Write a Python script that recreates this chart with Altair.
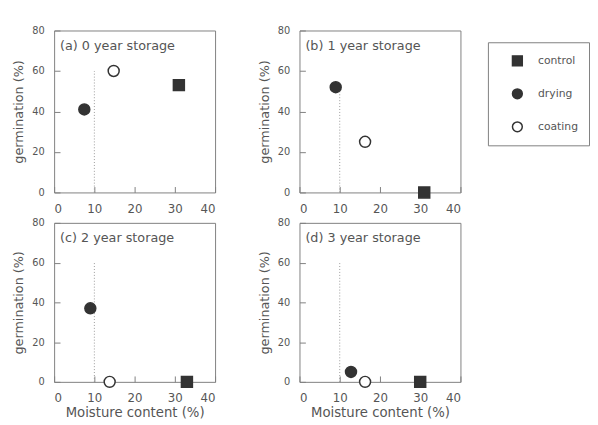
import altair as alt
import pandas as pd

panels = ["a", "b", "c", "d"]
panel_titles = ["(a) 0 year storage", "(b) 1 year storage",
                "(c) 2 year storage", "(d) 3 year storage"]
treatments = ["control", "drying", "coating"]
moisture = {
    "a": [31.0, 7.5, 14.8],
    "b": [31.0, 9.0, 16.3],
    "c": [33.0, 9.0, 13.8],
    "d": [30.0, 12.8, 16.3],
}
germination = {
    "a": [53, 41, 60],
    "b": [0, 52, 25],
    "c": [0, 37, 0],
    "d": [0, 5, 0],
}
threshold_x = 10
threshold_top = [60, 52, 60, 60]
x_ticks = [0, 10, 20, 30, 40]
y_ticks = [0, 20, 40, 60, 80]

FONT = "DejaVu Sans"
GREY = "#555555"
DARK = "#333333"
FRAME = "#808080"

shape_scale = alt.Scale(domain=treatments, range=["square", "circle", "circle"])
fill_scale = alt.Scale(domain=treatments, range=[DARK, DARK, "white"])
stroke_scale = alt.Scale(domain=treatments, range=[DARK, DARK, DARK])


def panel(i, show_xtitle, height):
    key = panels[i]
    df = pd.DataFrame({
        "treatment": treatments,
        "moisture": moisture[key],
        "germination": germination[key],
    })
    xaxis_kw = dict(values=x_ticks, offset=-6, tickSize=6, domain=False, grid=False,
                    labelPadding=11, labelFontSize=12, labelColor=GREY, labelFont=FONT,
                    tickColor=FRAME, titleFont=FONT, titleFontSize=13.5,
                    titleColor=GREY, titleFontWeight="normal", titlePadding=2)
    if show_xtitle:
        xaxis_kw["title"] = "Moisture content (%)"
    else:
        xaxis_kw["title"] = None
    xenc = alt.X("moisture:Q", scale=alt.Scale(domain=[0, 40], nice=False),
                 axis=alt.Axis(**xaxis_kw))
    yenc = alt.Y("germination:Q", scale=alt.Scale(domain=[0, 80], nice=False),
                 axis=alt.Axis(values=y_ticks, offset=-6, tickSize=6, domain=False,
                               grid=False, labelPadding=10, labelFontSize=10,
                               labelColor=GREY, labelFont=FONT, tickColor=FRAME,
                               title="germination (%)", titleFont=FONT,
                               titleFontSize=13, titleColor=GREY,
                               titleFontWeight="normal", titlePadding=6))

    points = alt.Chart(df).mark_point(size=125, strokeWidth=1.5,
                                      opacity=1, filled=False).encode(
        x=xenc,
        y=yenc,
        shape=alt.Shape("treatment:N", scale=shape_scale, legend=None),
        fill=alt.Fill("treatment:N", scale=fill_scale, legend=None),
        stroke=alt.Stroke("treatment:N", scale=stroke_scale, legend=None),
    )

    rule_df = pd.DataFrame({"x": [threshold_x], "y": [0], "y2": [threshold_top[i]]})
    rule = alt.Chart(rule_df).mark_rule(strokeDash=[1, 2], color="#999999",
                                        strokeWidth=1).encode(
        x="x:Q", y="y:Q", y2="y2:Q")

    label_df = pd.DataFrame({"label": [panel_titles[i]]})
    label = alt.Chart(label_df).mark_text(align="left", baseline="middle",
                                          font=FONT, fontSize=13, color=GREY).encode(
        text="label:N", x=alt.value(6), y=alt.value(16))

    return alt.layer(rule, points, label).properties(width=164, height=height)


# legend drawn as its own small framed panel
legend_df = pd.DataFrame({"treatment": treatments})
ly = alt.Y("treatment:N", sort=treatments, axis=None,
           scale=alt.Scale(domain=treatments, padding=0.56))
legend_points = alt.Chart(legend_df).mark_point(size=100, strokeWidth=1.5,
                                                opacity=1, filled=False).encode(
    y=ly,
    x=alt.value(30),
    shape=alt.Shape("treatment:N", scale=shape_scale, legend=None),
    fill=alt.Fill("treatment:N", scale=fill_scale, legend=None),
    stroke=alt.Stroke("treatment:N", scale=stroke_scale, legend=None),
)
legend_text = alt.Chart(legend_df).mark_text(align="left", baseline="middle",
                                             font=FONT, fontSize=11,
                                             color=GREY).encode(
    y=ly, x=alt.value(51), text="treatment:N")
legend_panel = alt.layer(legend_points, legend_text).properties(
    width=103, height=105,
)
# tiny invisible spacer above the legend box, to drop it a little
spacer = alt.Chart(legend_df).mark_point(opacity=0).encode(
    x=alt.value(0), y=alt.value(0)
).properties(width=103, height=1, view=alt.ViewBackground(stroke=None))
legend_col = alt.vconcat(spacer, legend_panel, spacing=8)

top = alt.hconcat(panel(0, False, 165), panel(1, False, 165), spacing=42)
bottom = alt.hconcat(panel(2, True, 162), panel(3, True, 162), spacing=42)
grid = alt.vconcat(top, bottom, spacing=2)

chart = alt.hconcat(grid, legend_col, spacing=24).resolve_scale(
    shape="shared", fill="shared", stroke="shared"
).properties(
    padding={"left": 4, "top": 13, "right": 0, "bottom": 0}
).configure_view(
    stroke=FRAME, strokeWidth=1
)

chart.save("out.html", embed_options={"renderer": "svg", "actions": False})
